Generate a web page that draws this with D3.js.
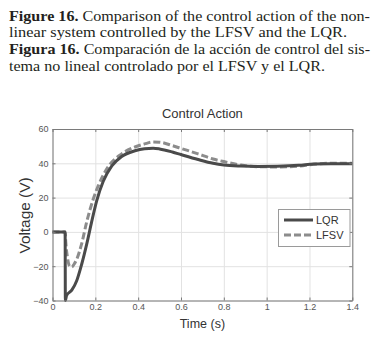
<!DOCTYPE html>
<html>
<head>
<meta charset="utf-8">
<script src="https://cdn.jsdelivr.net/npm/d3@7"></script>
<style>
  body { margin: 0; background: #fff; }
  svg { display: block; }
</style>
</head>
<body>
<div id="chart"></div>
<script>
const captionLines = [
  {bold: "Figure 16.", rest: " Comparison of the control action of the non-", len: 361},
  {bold: "", rest: "linear system controlled by the LFSV and the LQR.", len: 338},
  {bold: "Figura 16.", rest: " Comparación de la acción de control del sis-", len: 361},
  {bold: "", rest: "tema no lineal controlado por el LFSV y el LQR.", len: 316}
];

const lqrTime = [0, 0.059, 0.06, 0.066, 0.09, 0.113, 0.136, 0.16, 0.183, 0.206, 0.237, 0.277, 0.323, 0.385, 0.43, 0.47, 0.5, 0.56, 0.6, 0.68, 0.75, 0.8, 0.88, 0.96, 1.05, 1.15, 1.22, 1.3, 1.4];
const lqrVolt = [0, 0, -40, -37, -34, -28.5, -19, -7, 6, 18, 29.5, 38.5, 44, 47.3, 48.5, 48.8, 48.4, 46.6, 45.1, 42.2, 40, 39, 38.4, 38.2, 38.3, 38.8, 39.6, 39.8, 39.8];

const lfsvTime = [0, 0.059, 0.062, 0.07, 0.08, 0.09, 0.1, 0.113, 0.136, 0.16, 0.19, 0.214, 0.26, 0.323, 0.385, 0.43, 0.47, 0.5, 0.56, 0.6, 0.68, 0.75, 0.8, 0.88, 0.96, 1.05, 1.15, 1.22, 1.3, 1.4];
const lfsvVolt = [0, 0, -6, -15, -20, -20.5, -19, -16, -7, 6, 19, 27, 38, 45.5, 49.5, 51.3, 52.4, 52.3, 50.3, 48.7, 45.5, 42.5, 41, 39, 38, 37.9, 38.3, 39.5, 40, 40];

const xTicks = [0, 0.2, 0.4, 0.6, 0.8, 1, 1.2, 1.4];
const yTicks = [-40, -20, 0, 20, 40, 60];
const seriesNames = ["LQR", "LFSV"];

const W = 378, H = 338;
const plot = {left: 52.5, right: 352.3, top: 129, bottom: 300.5};

const svg = d3.select("#chart").append("svg")
  .attr("width", W)
  .attr("height", H)
  .style("background", "#fff");

// caption above the chart
const cap = svg.append("g")
  .style("font-family", "'Liberation Serif', 'DejaVu Serif', serif")
  .style("font-size", "14.5px")
  .style("fill", "#231f20");

captionLines.forEach((l, i) => {
  const t = cap.append("text")
    .attr("x", 9)
    .attr("y", 20.7 + i * 16.67)
    .attr("textLength", l.len)
    .attr("lengthAdjust", "spacingAndGlyphs");
  if (l.bold) t.append("tspan").style("font-weight", "bold").text(l.bold);
  t.append("tspan").text(l.rest);
});

const x = d3.scaleLinear().domain([0, 1.4]).range([plot.left, plot.right]);
const y = d3.scaleLinear().domain([-40, 60]).range([plot.bottom, plot.top]);
const pw = plot.right - plot.left, ph = plot.bottom - plot.top;

// grid
svg.append("g")
  .attr("class", "grid")
  .attr("transform", `translate(0,${plot.bottom})`)
  .call(d3.axisBottom(x).tickValues(xTicks).tickSize(-ph).tickFormat(""))
  .call(g => g.select(".domain").remove())
  .selectAll("line").attr("stroke", "#e2e2e2");
svg.append("g")
  .attr("class", "grid")
  .attr("transform", `translate(${plot.left},0)`)
  .call(d3.axisLeft(y).tickValues(yTicks).tickSize(-pw).tickFormat(""))
  .call(g => g.select(".domain").remove())
  .selectAll("line").attr("stroke", "#e2e2e2");

// curves
const line = d3.line()
  .x(d => x(d[0]))
  .y(d => y(d[1]))
  .curve(d3.curveMonotoneX);

svg.append("path")
  .datum(lfsvTime.map((t, i) => [t, lfsvVolt[i]]))
  .attr("fill", "none")
  .attr("stroke", "#8c8c8c")
  .attr("stroke-width", 3)
  .attr("stroke-dasharray", "7,3")
  .attr("d", line);

svg.append("path")
  .datum(lqrTime.map((t, i) => [t, lqrVolt[i]]))
  .attr("fill", "none")
  .attr("stroke", "#4a4a4a")
  .attr("stroke-width", 3)
  .attr("d", line);

// axes with inward ticks
const tickFont = g => g.selectAll("text")
  .style("font-family", "'Liberation Sans', Arial, sans-serif")
  .style("font-size", "9px")
  .style("fill", "#555");

const axes = svg.append("g");
axes.append("g")
  .attr("transform", `translate(0,${plot.bottom})`)
  .call(d3.axisBottom(x).tickValues(xTicks).tickSizeInner(-3).tickSizeOuter(0).tickPadding(3).tickFormat(d3.format("")))
  .call(tickFont);
axes.append("g")
  .attr("transform", `translate(0,${plot.top})`)
  .call(d3.axisTop(x).tickValues(xTicks).tickSizeInner(-3).tickSizeOuter(0).tickFormat(""));
axes.append("g")
  .attr("transform", `translate(${plot.left},0)`)
  .call(d3.axisLeft(y).tickValues(yTicks).tickSizeInner(-3).tickSizeOuter(0).tickPadding(4))
  .call(tickFont);
axes.append("g")
  .attr("transform", `translate(${plot.right},0)`)
  .call(d3.axisRight(y).tickValues(yTicks).tickSizeInner(-3).tickSizeOuter(0).tickFormat(""));

axes.selectAll(".domain, .tick line").attr("stroke", "#7a7a7a");

// title and labels
const labelFont = "'Liberation Sans', Arial, sans-serif";
svg.append("text")
  .attr("x", (plot.left + plot.right) / 2)
  .attr("y", 117.7)
  .attr("text-anchor", "middle")
  .style("font-family", labelFont)
  .style("font-size", "13px")
  .style("fill", "#333")
  .text("Control Action");

svg.append("text")
  .attr("x", (plot.left + plot.right) / 2)
  .attr("y", 327.5)
  .attr("text-anchor", "middle")
  .style("font-family", labelFont)
  .style("font-size", "12.5px")
  .style("fill", "#333")
  .text("Time (s)");

svg.append("text")
  .attr("transform", `translate(29.5,215.5) rotate(-90)`)
  .attr("text-anchor", "middle")
  .attr("textLength", 76)
  .attr("lengthAdjust", "spacingAndGlyphs")
  .style("font-family", labelFont)
  .style("font-size", "14px")
  .style("fill", "#333")
  .text("Voltage (V)");

// legend
const legend = svg.append("g");
legend.append("rect")
  .attr("x", 278.5).attr("y", 209.5)
  .attr("width", 71.5).attr("height", 37)
  .attr("fill", "#fff")
  .attr("stroke", "#9a9a9a");

legend.selectAll(".lg-line")
  .data(seriesNames)
  .join("line")
    .attr("x1", 284).attr("x2", 313)
    .attr("y1", (d, i) => 220 + i * 15)
    .attr("y2", (d, i) => 220 + i * 15)
    .attr("stroke", (d, i) => i === 0 ? "#4a4a4a" : "#8c8c8c")
    .attr("stroke-width", 3)
    .attr("stroke-dasharray", (d, i) => i === 0 ? null : "7,3");

legend.selectAll(".lg-text")
  .data(seriesNames)
  .join("text")
    .attr("x", 316)
    .attr("y", (d, i) => 220 + i * 15)
    .attr("dy", "0.35em")
    .style("font-family", labelFont)
    .style("font-size", "11px")
    .style("fill", "#333")
    .text(d => d);
</script>
</body>
</html>
